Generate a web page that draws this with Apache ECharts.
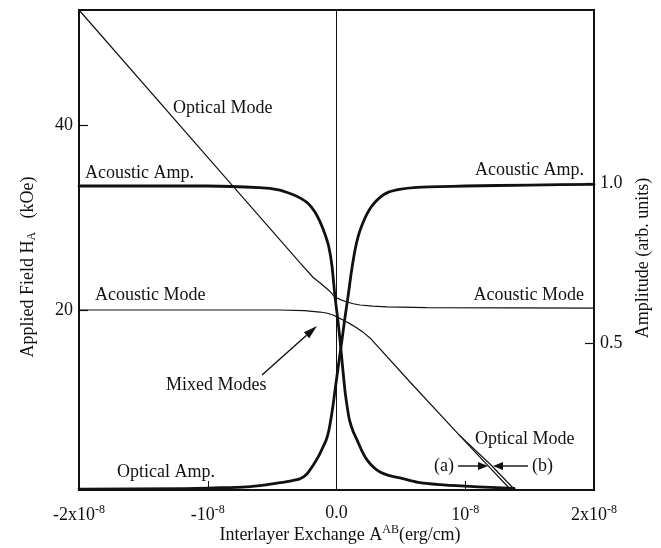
<!DOCTYPE html>
<html>
<head>
<meta charset="utf-8">
<script src="https://cdn.jsdelivr.net/npm/echarts@6/dist/echarts.min.js"></script>
<style>
  html, body { margin: 0; padding: 0; background: #fff; }
  #chart { width: 661px; height: 548px; }
</style>
</head>
<body>
<div id="chart"></div>
<script>
// Interlayer exchange A^AB in units of 1e-8 erg/cm
const xTickValues = [-2, -1, 0, 1, 2];
const xTickLabels = ['-2x10{sup|-8}', '-10{sup|-8}', '0.0', '10{sup|-8}', '2x10{sup|-8}'];
const fieldTicks = [20, 40];
const ampTicks = [0.5, 1.0];
const ampTickLabels = ['0.5', '1.0'];

// Upper mode branch: optical (A<0) turning into acoustic (A>0), kOe
const upperX = [-2.0, -1.0, -0.283, -0.183, -0.12, -0.074, -0.04, -0.012, 0.03, 0.082, 0.13, 0.183, 0.28, 0.392, 0.7, 2.0];
const upperH = [52.5, 36.54, 25.1, 23.55, 22.85, 22.3, 21.85, 21.4, 21.12, 20.87, 20.68, 20.54, 20.42, 20.33, 20.25, 20.2];

// Lower mode branch: acoustic (A<0) turning into optical (A>0), curve (a)
const lowerX = [-2.0, -0.44, -0.25, -0.128, -0.07, -0.027, 0.01, 0.05, 0.1, 0.159, 0.21, 0.26, 0.571, 0.95, 1.169, 1.34];
const lowerH = [20.0, 20.0, 19.93, 19.78, 19.65, 19.46, 19.2, 18.92, 18.55, 18.05, 17.55, 16.97, 12.2, 6.5, 3.25, 0.72];

// Optical mode, curve (b)
const optBX = [0.95, 1.2, 1.371];
const optBH = [6.5, 3.21, 0.72];

// Acoustic amplitude (high for A<0)
const acAmpX = [-2.0, -1.0, -0.6, -0.45, -0.35, -0.28, -0.22, -0.17, -0.13, -0.09, -0.06, -0.035, -0.012, 0.008, 0.027, 0.046, 0.066, 0.085, 0.1, 0.13, 0.16, 0.2, 0.237, 0.29, 0.338, 0.41, 0.493, 0.633, 0.8, 1.0, 1.2, 1.38];
const acAmpY = [0.99, 0.99, 0.985, 0.978, 0.965, 0.952, 0.935, 0.91, 0.88, 0.84, 0.8, 0.74, 0.645, 0.58, 0.51, 0.43, 0.35, 0.295, 0.26, 0.222, 0.196, 0.16, 0.134, 0.11, 0.096, 0.085, 0.078, 0.064, 0.057, 0.052, 0.048, 0.045];

// Optical amplitude (low for A<0), rising to the acoustic level for A>0
const opAmpX = [-2.0, -1.2, -0.9, -0.7, -0.55, -0.45, -0.36, -0.283, -0.23, -0.18, -0.14, -0.105, -0.08, -0.06, -0.04, -0.025, -0.012, 0.015, 0.043, 0.066, 0.089, 0.115, 0.144, 0.17, 0.2, 0.24, 0.28, 0.34, 0.4, 0.5, 0.6, 0.8, 1.0, 1.5, 2.0];
const opAmpY = [0.043, 0.044, 0.047, 0.05, 0.056, 0.062, 0.068, 0.075, 0.09, 0.118, 0.145, 0.174, 0.196, 0.225, 0.27, 0.31, 0.35, 0.43, 0.51, 0.58, 0.643, 0.72, 0.79, 0.835, 0.87, 0.905, 0.93, 0.955, 0.97, 0.98, 0.985, 0.988, 0.99, 0.993, 0.995];

const zip = (xs, ys) => xs.map((x, i) => [x, ys[i]]);
const FONT = '"Liberation Serif", "Times New Roman", serif';
const INK = '#111';

const chart = echarts.init(document.getElementById('chart'), null, { renderer: 'canvas' });

const thin = { color: INK, width: 1.2 };
const thick = { color: INK, width: 2.8, join: 'round', cap: 'round' };

function textEl(text, x, y, opts) {
  return {
    type: 'text', x: x, y: y,
    style: Object.assign({ text: text, font: '18px ' + FONT, fill: INK, textVerticalAlign: 'middle' }, opts || {})
  };
}

function arrowEl(x1, y1, x2, y2, head) {
  const ang = Math.atan2(y2 - y1, x2 - x1);
  const L = head || 11, W = 4;
  const bx = x2 - L * Math.cos(ang), by = y2 - L * Math.sin(ang);
  const nx = -Math.sin(ang) * W, ny = Math.cos(ang) * W;
  return [
    { type: 'line', shape: { x1: x1, y1: y1, x2: bx, y2: by }, style: { stroke: INK, lineWidth: 1.4 } },
    { type: 'polygon', shape: { points: [[x2, y2], [bx + nx, by + ny], [bx - nx, by - ny]] }, style: { fill: INK } }
  ];
}

function yAxisBase(min, max, ticks, position) {
  return {
    type: 'value', min: min, max: max, position: position,
    axisLine: { show: false, onZero: false }, splitLine: { show: false },
    axisTick: { show: true, inside: true, length: 9, lineStyle: { color: INK, width: 1.2 }, customValues: ticks },
    axisLabel: { customValues: ticks, margin: 6, color: INK, fontFamily: FONT, fontSize: 18 }
  };
}

const leftAxis = yAxisBase(0.5, 52.5, fieldTicks, 'left');
const rightAxis = yAxisBase(0.04, 1.54, ampTicks, 'right');
rightAxis.axisLabel.formatter = function (v) {
  const i = ampTicks.findIndex(t => Math.abs(t - v) < 1e-9);
  return i >= 0 ? ampTickLabels[i] : '';
};

const option = {
  animation: false,
  backgroundColor: '#fff',
  grid: { left: 79, right: 67, top: 10, bottom: 58, show: true, borderColor: INK, borderWidth: 2, backgroundColor: 'transparent' },
  xAxis: {
    type: 'value', min: -2, max: 2,
    axisLine: { show: false, onZero: false },
    splitLine: { show: false },
    axisTick: { show: true, inside: true, length: 9, lineStyle: { color: INK, width: 1 }, customValues: xTickValues },
    axisLabel: {
      customValues: xTickValues,
      margin: 14,
      formatter: function (v) { return xTickLabels[xTickValues.indexOf(Math.round(v))]; },
      color: INK, fontFamily: FONT, fontSize: 18,
      rich: { sup: { fontSize: 12, verticalAlign: 'top', padding: [0, 0, 10, 0], fontFamily: FONT, color: INK } }
    }
  },
  yAxis: [leftAxis, rightAxis],
  series: [
    {
      name: 'upper branch', type: 'line', yAxisIndex: 0, data: zip(upperX, upperH),
      showSymbol: false, lineStyle: thin,
      markLine: {
        silent: true, symbol: 'none', label: { show: false },
        lineStyle: { color: INK, width: 1, type: 'solid' },
        data: [{ xAxis: 0 }]
      }
    },
    { name: 'lower branch (a)', type: 'line', yAxisIndex: 0, data: zip(lowerX, lowerH), showSymbol: false, lineStyle: thin },
    { name: 'optical (b)', type: 'line', yAxisIndex: 0, data: zip(optBX, optBH), showSymbol: false, lineStyle: thin },
    { name: 'acoustic amp', type: 'line', yAxisIndex: 1, data: zip(acAmpX, acAmpY), showSymbol: false, smooth: 0.2, lineStyle: thick },
    { name: 'optical amp', type: 'line', yAxisIndex: 1, data: zip(opAmpX, opAmpY), showSymbol: false, smooth: 0.2, lineStyle: thick }
  ],
  graphic: [].concat(
    [
      textEl('Optical Mode', 173, 108),
      textEl('Acoustic Amp.', 85, 173),
      textEl('Acoustic Amp.', 584, 170, { textAlign: 'right' }),
      textEl('Acoustic Mode', 95, 295),
      textEl('Acoustic Mode', 584, 295, { textAlign: 'right' }),
      textEl('Mixed Modes', 166, 385),
      textEl('Optical Amp.', 117, 472),
      textEl('Optical Mode', 475, 439),
      textEl('(a)', 434, 466),
      textEl('(b)', 532, 466),
      // axis titles
      {
        type: 'text', x: 28, y: 267, rotation: Math.PI / 2,
        style: {
          text: 'Applied Field H{sub|A}   (kOe)', font: '18px ' + FONT, fill: INK,
          textAlign: 'center', textVerticalAlign: 'middle',
          rich: { sub: { fontSize: 12, fontFamily: FONT, verticalAlign: 'bottom', padding: [8, 0, 0, 0] } }
        }
      },
      {
        type: 'text', x: 643, y: 258, rotation: Math.PI / 2,
        style: { text: 'Amplitude (arb. units)', font: '18px ' + FONT, fill: INK, textAlign: 'center', textVerticalAlign: 'middle' }
      },
      {
        type: 'text', x: 340, y: 535,
        style: {
          text: 'Interlayer Exchange A{sup|AB}(erg/cm)', font: '18px ' + FONT, fill: INK,
          textAlign: 'center', textVerticalAlign: 'middle',
          rich: { sup: { fontSize: 12, fontFamily: FONT, verticalAlign: 'top', padding: [0, 0, 10, 0] } }
        }
      }
    ],
    arrowEl(262, 375, 317, 326, 14),
    arrowEl(458, 466, 488, 466, 10),
    arrowEl(528, 466, 493, 466, 10)
  )
};

chart.setOption(option);
</script>
</body>
</html>
